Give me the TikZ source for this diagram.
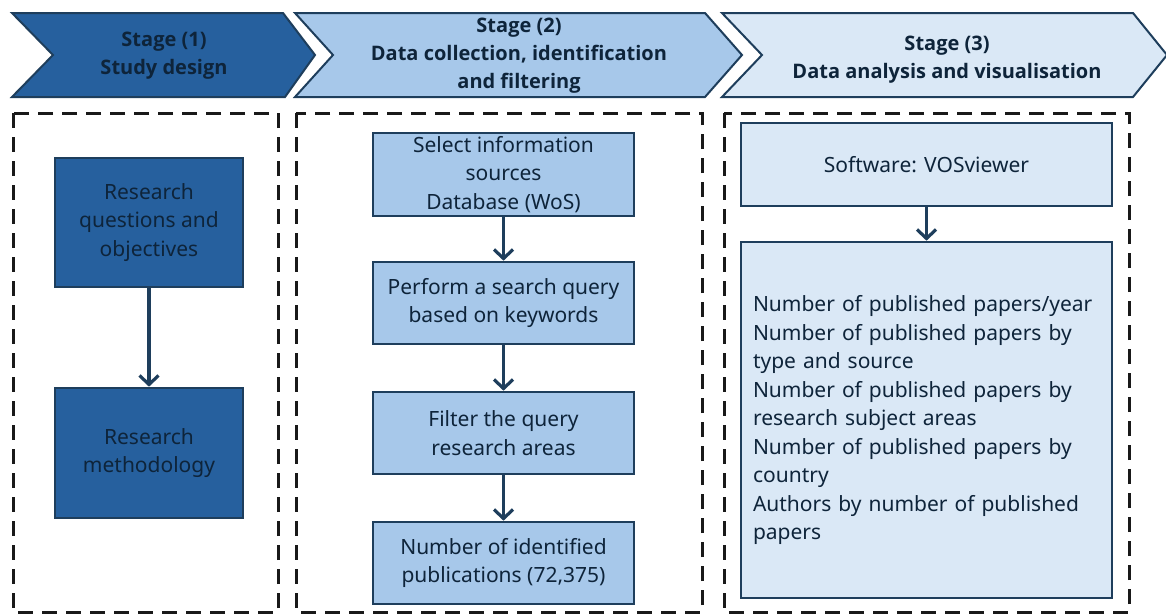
\documentclass[tikz,border=0pt]{standalone}
\usepackage{fontspec}
\setmainfont{Noto Sans}
\newfontfamily\headfont{Open Sans}[UprightFont=*-Bold]
\usetikzlibrary{arrows.meta}
\definecolor{darkfill}{RGB}{38,96,158}
\definecolor{midfill}{RGB}{167,200,234}
\definecolor{lightfill}{RGB}{218,232,246}
\definecolor{edge}{RGB}{30,62,92}
\definecolor{ink}{RGB}{14,36,58}
\definecolor{dashc}{RGB}{25,25,25}
\tikzset{
  chev/.style={draw=edge, line width=2pt, line join=miter},
  frame/.style={draw=dashc, line width=3pt, dash pattern=on 15pt off 9pt},
  stepbox/.style={draw=edge, line width=2.6pt, minimum width=188pt, inner sep=0pt, align=center, text=ink, font=\fontsize{21}{28.5}\selectfont},
  head/.style={align=center, text=ink, font=\headfont\fontsize{20}{28}\selectfont},
  flow/.style={draw=edge, line width=3.2pt, -{Straight Barb[length=9pt,width=19pt,line width=3.2pt]}},
}
\begin{document}
\begin{tikzpicture}[x=1pt,y=-1pt]
\useasboundingbox (0,0) rectangle (1166,613);
\fill[white] (0,0) rectangle (1166,613);
% chevrons
\draw[chev, fill=darkfill] (12,13) -- (283,13) -- (315,55) -- (285,97) -- (12,97) -- (53,55) -- cycle;
\draw[chev, fill=midfill] (295,13) -- (705,13) -- (742,55) -- (705,97) -- (295,97) -- (333,55) -- cycle;
\draw[chev, fill=lightfill] (722,13) -- (1133,13) -- (1167,55) -- (1133,97) -- (722,97) -- (762,55) -- cycle;
\node[head] (h1) at (164,56) {Stage (1)\\Study design};
\node[head] (h2) at (519,56) {Stage (2)\\Data collection, identification\\and filtering};
\node[head] (h3) at (947,60) {Stage (3)\\Data analysis and visualisation};
% dashed frames
\draw[frame] (13,113) rectangle (278,612);
\draw[frame] (296,113) rectangle (702,612);
\draw[frame] (724,113) rectangle (1129,612);
% stage 1
\node[stepbox, fill=darkfill, minimum width=188pt, minimum height=129pt] (a1) at (149,222.5) {Research\\questions and\\objectives};
\node[stepbox, fill=darkfill, minimum width=188pt, minimum height=130pt] (a2) at (149,453) {Research\\methodology};
\draw[flow] (a1) -- (a2);
% stage 2
\node[stepbox, fill=midfill, minimum width=261pt, minimum height=83pt] (b1) at (503.5,174.5) {Select information\\sources\\Database (WoS)};
\node[stepbox, fill=midfill, minimum width=261pt, minimum height=82pt] (b2) at (503.5,303) {Perform a search query\\based on keywords};
\node[stepbox, fill=midfill, minimum width=261pt, minimum height=82pt] (b3) at (503.5,433) {Filter the query\\research areas};
\node[stepbox, fill=midfill, minimum width=261pt, minimum height=82pt] (b4) at (503.5,563) {Number of identified\\publications (72,375)};
\draw[flow] (b1) -- (b2);
\draw[flow] (b2) -- (b3);
\draw[flow] (b3) -- (b4);
% stage 3
\node[stepbox, fill=lightfill, minimum width=371pt, minimum height=83pt] (c1) at (926.5,164.5) {Software: VOSviewer};
\node[stepbox, fill=lightfill, minimum width=371pt, minimum height=356pt, align=left, text width=347pt] (c2) at (926.5,420) {Number of published papers/year\\Number of published papers by\\type and source\\Number of published papers by\\research subject areas\\Number of published papers by\\country\\Authors by number of published\\papers};
\draw[flow] (c1) -- (c2);
\end{tikzpicture}
\end{document}
